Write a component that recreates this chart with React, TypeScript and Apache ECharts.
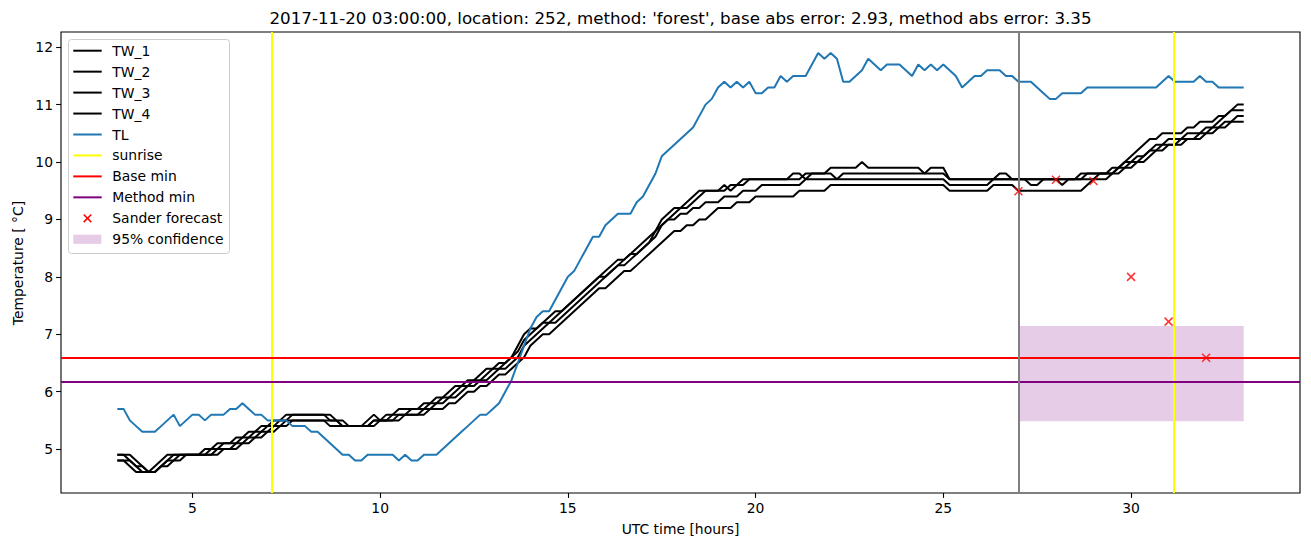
import React, { useEffect, useRef } from "react";
import * as echarts from "echarts";

const TITLE =
  "2017-11-20 03:00:00, location: 252, method: 'forest', base abs error: 2.93, method abs error: 3.35";
const X_LABEL = "UTC time [hours]";
const Y_LABEL = "Temperature [ °C]";
const X_TICKS = [5, 10, 15, 20, 25, 30];
const Y_TICKS = [5, 6, 7, 8, 9, 10, 11, 12];
const X_RANGE = [1.5, 34.5];
const Y_RANGE = [4.235, 12.265];
const START_HOUR = 3;
const STEP_MINUTES = 10;

// one row per hour (6 samples, every 10 minutes), from 03:00 to 33:00
const TW_1 = [
  4.9, 4.9, 4.8, 4.7, 4.7, 4.6,
  4.7, 4.8, 4.9, 4.9, 4.9, 4.9,
  4.9, 4.9, 5.0, 5.0, 5.1, 5.1,
  5.1, 5.2, 5.2, 5.3, 5.3, 5.4,
  5.4, 5.5, 5.5, 5.6, 5.6, 5.6,
  5.6, 5.6, 5.6, 5.6, 5.5, 5.5,
  5.4, 5.4, 5.4, 5.4, 5.5, 5.6,
  5.5, 5.6, 5.6, 5.7, 5.7, 5.7,
  5.7, 5.8, 5.8, 5.9, 5.9, 6.0,
  6.1, 6.1, 6.2, 6.2, 6.3, 6.4,
  6.4, 6.5, 6.5, 6.6, 6.8, 7.0,
  7.1, 7.1, 7.2, 7.3, 7.4, 7.4,
  7.5, 7.6, 7.7, 7.8, 7.9, 8.0,
  8.1, 8.2, 8.3, 8.3, 8.4, 8.5,
  8.6, 8.7, 8.8, 9.0, 9.1, 9.2,
  9.2, 9.3, 9.4, 9.5, 9.5, 9.5,
  9.5, 9.6, 9.5, 9.6, 9.7, 9.7,
  9.7, 9.7, 9.7, 9.7, 9.7, 9.7,
  9.7, 9.7, 9.8, 9.8, 9.8, 9.8,
  9.9, 9.9, 9.9, 9.9, 9.9, 10.0,
  9.9, 9.9, 9.9, 9.9, 9.9, 9.9,
  9.9, 9.9, 9.9, 9.8, 9.9, 9.9,
  9.9, 9.7, 9.7, 9.7, 9.7, 9.7,
  9.7, 9.7, 9.7, 9.8, 9.8, 9.7,
  9.7, 9.7, 9.7, 9.7, 9.7, 9.7,
  9.7, 9.7, 9.7, 9.7, 9.8, 9.8,
  9.8, 9.8, 9.8, 9.8, 9.9, 10.0,
  10.1, 10.2, 10.3, 10.4, 10.4, 10.5,
  10.5, 10.5, 10.5, 10.6, 10.6, 10.7,
  10.7, 10.7, 10.8, 10.8, 10.9, 11.0,
  11.0,
];
const TW_2 = [
  4.9, 4.9, 4.9, 4.8, 4.7, 4.6,
  4.6, 4.7, 4.8, 4.9, 4.9, 4.9,
  4.9, 4.9, 4.9, 5.0, 5.0, 5.1,
  5.1, 5.1, 5.2, 5.2, 5.3, 5.3,
  5.4, 5.4, 5.5, 5.5, 5.6, 5.6,
  5.6, 5.6, 5.6, 5.6, 5.6, 5.5,
  5.5, 5.4, 5.4, 5.4, 5.4, 5.5,
  5.5, 5.5, 5.6, 5.6, 5.6, 5.7,
  5.7, 5.7, 5.8, 5.8, 5.9, 5.9,
  6.0, 6.1, 6.1, 6.2, 6.2, 6.3,
  6.4, 6.4, 6.5, 6.6, 6.7, 6.9,
  7.0, 7.1, 7.2, 7.2, 7.3, 7.4,
  7.5, 7.6, 7.7, 7.8, 7.9, 8.0,
  8.0, 8.1, 8.2, 8.3, 8.4, 8.4,
  8.5, 8.6, 8.8, 8.9, 9.0, 9.1,
  9.2, 9.2, 9.3, 9.4, 9.5, 9.5,
  9.5, 9.5, 9.6, 9.6, 9.6, 9.7,
  9.7, 9.7, 9.7, 9.7, 9.7, 9.7,
  9.8, 9.8, 9.7, 9.8, 9.8, 9.8,
  9.8, 9.7, 9.8, 9.8, 9.8, 9.8,
  9.8, 9.8, 9.8, 9.8, 9.8, 9.8,
  9.8, 9.8, 9.8, 9.8, 9.8, 9.8,
  9.8, 9.7, 9.7, 9.7, 9.7, 9.7,
  9.7, 9.7, 9.7, 9.7, 9.7, 9.7,
  9.7, 9.7, 9.7, 9.7, 9.7, 9.7,
  9.7, 9.6, 9.7, 9.7, 9.7, 9.8,
  9.8, 9.8, 9.8, 9.9, 9.9, 10.0,
  10.0, 10.1, 10.1, 10.2, 10.3, 10.3,
  10.4, 10.4, 10.4, 10.5, 10.5, 10.5,
  10.6, 10.6, 10.7, 10.8, 10.9, 10.9,
  10.9,
];
const TW_3 = [
  4.8, 4.8, 4.8, 4.7, 4.6, 4.6,
  4.6, 4.7, 4.8, 4.8, 4.9, 4.9,
  4.9, 4.9, 4.9, 4.9, 5.0, 5.0,
  5.0, 5.1, 5.1, 5.2, 5.2, 5.3,
  5.3, 5.4, 5.4, 5.5, 5.5, 5.5,
  5.5, 5.5, 5.5, 5.5, 5.5, 5.5,
  5.4, 5.4, 5.4, 5.4, 5.4, 5.5,
  5.5, 5.5, 5.5, 5.6, 5.6, 5.6,
  5.6, 5.7, 5.7, 5.8, 5.8, 5.9,
  5.9, 6.0, 6.1, 6.1, 6.2, 6.2,
  6.3, 6.4, 6.4, 6.5, 6.6, 6.8,
  6.9, 7.0, 7.1, 7.2, 7.2, 7.3,
  7.4, 7.5, 7.6, 7.7, 7.8, 7.9,
  8.0, 8.1, 8.2, 8.2, 8.3, 8.4,
  8.5, 8.6, 8.7, 8.9, 9.0, 9.0,
  9.1, 9.1, 9.2, 9.2, 9.3, 9.3,
  9.3, 9.4, 9.4, 9.4, 9.5, 9.5,
  9.5, 9.6, 9.6, 9.6, 9.6, 9.6,
  9.6, 9.6, 9.7, 9.7, 9.7, 9.7,
  9.7, 9.7, 9.7, 9.7, 9.7, 9.7,
  9.7, 9.7, 9.7, 9.7, 9.7, 9.7,
  9.7, 9.7, 9.7, 9.7, 9.7, 9.7,
  9.7, 9.6, 9.6, 9.6, 9.6, 9.6,
  9.6, 9.6, 9.7, 9.7, 9.7, 9.7,
  9.7, 9.7, 9.6, 9.6, 9.7, 9.7,
  9.7, 9.7, 9.7, 9.7, 9.7, 9.7,
  9.7, 9.8, 9.8, 9.8, 9.9, 9.9,
  10.0, 10.0, 10.1, 10.2, 10.2, 10.3,
  10.3, 10.3, 10.4, 10.4, 10.4, 10.5,
  10.5, 10.6, 10.6, 10.7, 10.7, 10.8,
  10.8,
];
const TW_4 = [
  4.8, 4.8, 4.7, 4.6, 4.6, 4.6,
  4.6, 4.7, 4.7, 4.8, 4.8, 4.9,
  4.9, 4.9, 4.9, 4.9, 4.9, 5.0,
  5.0, 5.0, 5.1, 5.1, 5.2, 5.2,
  5.3, 5.3, 5.4, 5.4, 5.5, 5.5,
  5.5, 5.5, 5.5, 5.5, 5.4, 5.4,
  5.4, 5.4, 5.4, 5.4, 5.4, 5.4,
  5.5, 5.5, 5.5, 5.5, 5.6, 5.6,
  5.6, 5.6, 5.7, 5.7, 5.7, 5.8,
  5.8, 5.9, 6.0, 6.0, 6.1, 6.1,
  6.2, 6.3, 6.3, 6.4, 6.5, 6.6,
  6.8, 6.9, 7.0, 7.0, 7.1, 7.2,
  7.3, 7.4, 7.5, 7.6, 7.7, 7.8,
  7.8, 7.9, 8.0, 8.1, 8.1, 8.2,
  8.3, 8.4, 8.5, 8.6, 8.7, 8.8,
  8.8, 8.9, 8.9, 9.0, 9.0, 9.1,
  9.2, 9.2, 9.2, 9.3, 9.3, 9.3,
  9.4, 9.4, 9.4, 9.4, 9.4, 9.4,
  9.4, 9.5, 9.5, 9.5, 9.5, 9.5,
  9.6, 9.6, 9.6, 9.6, 9.6, 9.6,
  9.6, 9.6, 9.6, 9.6, 9.6, 9.6,
  9.6, 9.6, 9.6, 9.6, 9.6, 9.6,
  9.6, 9.5, 9.5, 9.5, 9.5, 9.5,
  9.5, 9.5, 9.6, 9.6, 9.6, 9.6,
  9.5, 9.5, 9.5, 9.5, 9.5, 9.5,
  9.5, 9.5, 9.5, 9.5, 9.5, 9.6,
  9.7, 9.7, 9.7, 9.8, 9.8, 9.9,
  9.9, 10.0, 10.0, 10.1, 10.2, 10.2,
  10.3, 10.3, 10.3, 10.4, 10.4, 10.4,
  10.5, 10.5, 10.6, 10.6, 10.7, 10.7,
  10.7,
];
const TL = [
  5.7, 5.7, 5.5, 5.4, 5.3, 5.3,
  5.3, 5.4, 5.5, 5.6, 5.4, 5.5,
  5.6, 5.6, 5.5, 5.6, 5.6, 5.6,
  5.7, 5.7, 5.8, 5.7, 5.6, 5.6,
  5.5, 5.5, 5.5, 5.5, 5.4, 5.4,
  5.4, 5.3, 5.3, 5.2, 5.1, 5.0,
  4.9, 4.9, 4.8, 4.8, 4.9, 4.9,
  4.9, 4.9, 4.9, 4.8, 4.9, 4.8,
  4.8, 4.9, 4.9, 4.9, 5.0, 5.1,
  5.2, 5.3, 5.4, 5.5, 5.6, 5.6,
  5.7, 5.8, 6.0, 6.2, 6.5, 6.8,
  7.1, 7.3, 7.4, 7.4, 7.6, 7.8,
  8.0, 8.1, 8.3, 8.5, 8.7, 8.7,
  8.9, 9.0, 9.1, 9.1, 9.1, 9.3,
  9.4, 9.6, 9.8, 10.1, 10.2, 10.3,
  10.4, 10.5, 10.6, 10.8, 11.0, 11.1,
  11.3, 11.4, 11.3, 11.4, 11.3, 11.4,
  11.2, 11.2, 11.3, 11.3, 11.5, 11.4,
  11.5, 11.5, 11.5, 11.7, 11.9, 11.8,
  11.9, 11.8, 11.4, 11.4, 11.5, 11.6,
  11.8, 11.7, 11.6, 11.7, 11.7, 11.7,
  11.6, 11.5, 11.7, 11.6, 11.7, 11.6,
  11.7, 11.6, 11.5, 11.3, 11.4, 11.5,
  11.5, 11.6, 11.6, 11.6, 11.5, 11.5,
  11.4, 11.4, 11.4, 11.3, 11.2, 11.1,
  11.1, 11.2, 11.2, 11.2, 11.2, 11.3,
  11.3, 11.3, 11.3, 11.3, 11.3, 11.3,
  11.3, 11.3, 11.3, 11.3, 11.3, 11.4,
  11.5, 11.4, 11.4, 11.4, 11.4, 11.5,
  11.4, 11.4, 11.3, 11.3, 11.3, 11.3,
  11.3,
];

const SUNRISE_HOURS = [7.12, 31.15];
const FORECAST_START_HOUR = 27;
const BASE_MIN = 6.59;
const METHOD_MIN = 6.17;
const FORECAST_HOURS = [27, 28, 29, 30, 31, 32];
const FORECAST_VALUES = [9.49, 9.69, 9.67, 8.0, 7.22, 6.59];
const CONFIDENCE_HOURS = [27, 33];
const CONFIDENCE_BOUNDS = [5.486, 7.146];

const FONT = "DejaVu Sans";
const BLACK = "#000000";
const BLUE = "#1f77b4";
const YELLOW = "#ffff00";
const RED = "#ff0000";
const PURPLE = "#800080";
const GREY = "#808080";
const PINK = "rgba(128,0,128,0.2)";

const LEGEND_ITEMS = [
  { name: "TW_1", kind: "line", color: BLACK },
  { name: "TW_2", kind: "line", color: BLACK },
  { name: "TW_3", kind: "line", color: BLACK },
  { name: "TW_4", kind: "line", color: BLACK },
  { name: "TL", kind: "line", color: BLUE },
  { name: "sunrise", kind: "line", color: YELLOW },
  { name: "Base min", kind: "line", color: RED },
  { name: "Method min", kind: "line", color: PURPLE },
  { name: "Sander forecast", kind: "cross", color: RED },
  { name: "95% confidence", kind: "patch", color: PINK },
];

function toPairs(values: number[]) {
  return values.map((v, i) => [START_HOUR + (i * STEP_MINUTES) / 60, v]);
}

function buildLegend() {
  const children: any[] = [];
  children.push({
    type: "rect",
    shape: { x: 68.5, y: 39.5, width: 161, height: 214, r: 3 },
    style: { fill: "rgba(255,255,255,0.8)", stroke: "#cccccc", lineWidth: 1 },
  });
  LEGEND_ITEMS.forEach((item, i) => {
    const y = 50.7 + 20.95 * i;
    if (item.kind === "line") {
      children.push({
        type: "line",
        shape: { x1: 73.3, y1: y, x2: 101.7, y2: y },
        style: { stroke: item.color, lineWidth: 2 },
      });
    } else if (item.kind === "cross") {
      const cx = 87.5;
      const h = 3.8;
      children.push({
        type: "line",
        shape: { x1: cx - h, y1: y - h, x2: cx + h, y2: y + h },
        style: { stroke: item.color, lineWidth: 1.5 },
      });
      children.push({
        type: "line",
        shape: { x1: cx - h, y1: y + h, x2: cx + h, y2: y - h },
        style: { stroke: item.color, lineWidth: 1.5 },
      });
    } else {
      children.push({
        type: "rect",
        shape: { x: 73.3, y: y - 4.6, width: 28, height: 9.2 },
        style: { fill: item.color },
      });
    }
    children.push({
      type: "text",
      x: 112.3,
      y: y,
      style: {
        text: item.name,
        fontSize: 13.9,
        fontFamily: FONT,
        fill: BLACK,
        align: "left",
        verticalAlign: "middle",
      },
    });
  });
  return { type: "group", z: 100, children };
}

function buildOption() {
  const lineSeries = (name: string, values: number[], color: string) => ({
    name,
    type: "line",
    data: toPairs(values),
    showSymbol: false,
    symbol: "none",
    lineStyle: { color, width: 2 },
    itemStyle: { color },
    z: 3,
    silent: true,
  });

  const tl: any = lineSeries("TL", TL, BLUE);
  const solid = (color: string) => ({ color, width: 2, type: "solid" });
  tl.markLine = {
    symbol: ["none", "none"],
    silent: true,
    label: { show: false },
    emphasis: { disabled: true },
    animation: false,
    data: [
      ...SUNRISE_HOURS.map((h) => ({ xAxis: h, lineStyle: solid(YELLOW) })),
      { yAxis: BASE_MIN, lineStyle: solid(RED) },
      { yAxis: METHOD_MIN, lineStyle: solid(PURPLE) },
      { xAxis: FORECAST_START_HOUR, lineStyle: solid(GREY) },
    ],
  };

  return {
    animation: false,
    textStyle: { fontFamily: FONT },
    grid: {
      left: 61,
      right: 11,
      top: 32,
      bottom: 54,
      show: true,
      borderColor: BLACK,
      borderWidth: 1.1,
      backgroundColor: "transparent",
    },
    xAxis: {
      type: "value",
      min: X_RANGE[0],
      max: X_RANGE[1],
      axisLine: { show: false },
      axisTick: {
        show: true,
        customValues: X_TICKS,
        length: 4.9,
        lineStyle: { color: BLACK, width: 1.1 },
      },
      axisLabel: {
        customValues: X_TICKS,
        margin: 8,
        fontSize: 13.9,
        fontFamily: FONT,
        color: BLACK,
      },
      splitLine: { show: false },
    },
    yAxis: {
      type: "value",
      min: Y_RANGE[0],
      max: Y_RANGE[1],
      axisLine: { show: false },
      axisTick: {
        show: true,
        customValues: Y_TICKS,
        length: 4.9,
        lineStyle: { color: BLACK, width: 1.1 },
      },
      axisLabel: {
        customValues: Y_TICKS,
        margin: 8,
        fontSize: 13.9,
        fontFamily: FONT,
        color: BLACK,
      },
      splitLine: { show: false },
    },
    graphic: [
      {
        type: "text",
        x: 680.5,
        y: 18,
        style: {
          text: TITLE,
          fontSize: 16.7,
          fontFamily: FONT,
          fill: BLACK,
          align: "center",
          verticalAlign: "middle",
        },
      },
      {
        type: "text",
        x: 680.5,
        y: 529,
        style: {
          text: X_LABEL,
          fontSize: 13.9,
          fontFamily: FONT,
          fill: BLACK,
          align: "center",
          verticalAlign: "middle",
        },
      },
      {
        type: "text",
        x: 18,
        y: 263,
        rotation: Math.PI / 2,
        style: {
          text: Y_LABEL,
          fontSize: 13.9,
          fontFamily: FONT,
          fill: BLACK,
          align: "center",
          verticalAlign: "middle",
        },
      },
      buildLegend(),
    ],
    series: [
      {
        name: "95% confidence",
        type: "custom",
        z: 1,
        silent: true,
        data: [[CONFIDENCE_HOURS[0], CONFIDENCE_HOURS[1], CONFIDENCE_BOUNDS[0], CONFIDENCE_BOUNDS[1]]],
        encode: { x: [0, 1], y: [2, 3] },
        renderItem: (params: any, api: any) => {
          const p1 = api.coord([api.value(0), api.value(3)]);
          const p2 = api.coord([api.value(1), api.value(2)]);
          return {
            type: "rect",
            shape: { x: p1[0], y: p1[1], width: p2[0] - p1[0], height: p2[1] - p1[1] },
            style: { fill: PINK },
          };
        },
      },
      lineSeries("TW_1", TW_1, BLACK),
      lineSeries("TW_2", TW_2, BLACK),
      lineSeries("TW_3", TW_3, BLACK),
      lineSeries("TW_4", TW_4, BLACK),
      tl,
      {
        name: "Sander forecast",
        type: "scatter",
        z: 6,
        silent: true,
        data: FORECAST_HOURS.map((h, i) => [h, FORECAST_VALUES[i]]),
        symbol: "path://M0,0L10,10M10,0L0,10",
        symbolSize: 8,
        itemStyle: { color: "rgba(0,0,0,0)", borderColor: RED, borderWidth: 1.5 },
      },
    ],
  };
}

export default function App() {
  const ref = useRef<HTMLDivElement>(null);
  useEffect(() => {
    if (!ref.current) return;
    const chart = echarts.init(ref.current, undefined, { renderer: "svg" });
    chart.setOption(buildOption() as any);
    return () => chart.dispose();
  }, []);
  return (
    <div
      ref={ref}
      style={{ position: "fixed", left: 0, top: 0, width: 1311, height: 547, background: "#fff" }}
    />
  );
}
